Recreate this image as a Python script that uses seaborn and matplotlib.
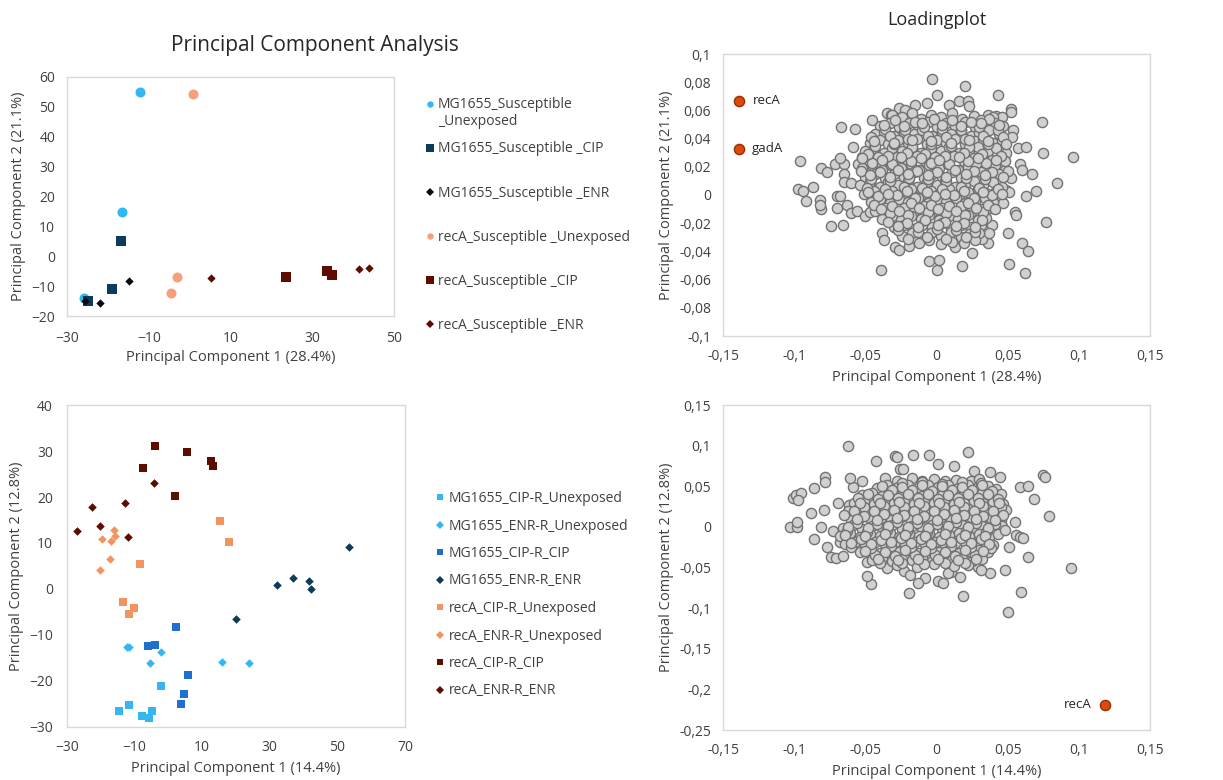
import numpy as np
import pandas as pd
import matplotlib
matplotlib.use("Agg")
import matplotlib.pyplot as plt
from matplotlib.lines import Line2D
from matplotlib.ticker import FuncFormatter
from matplotlib.legend_handler import HandlerLine2D
import seaborn as sns

# ---------------- data: PCA of samples (top) ----------------
top_labels = ["MG1655_Susceptible _Unexposed", "MG1655_Susceptible _CIP",
              "MG1655_Susceptible _ENR", "recA_Susceptible _Unexposed",
              "recA_Susceptible _CIP", "recA_Susceptible _ENR"]
top_group = (["MG1655_Susceptible _Unexposed"] * 3 + ["MG1655_Susceptible _CIP"] * 3 +
             ["MG1655_Susceptible _ENR"] * 3 + ["recA_Susceptible _Unexposed"] * 3 +
             ["recA_Susceptible _CIP"] * 3 + ["recA_Susceptible _ENR"] * 3)
top_pc1 = [-12.1, -16.5, -25.9, -16.9, -19.1, -24.9, -14.9, -21.9, -25.6,
           0.8, -3.1, -4.6, 23.7, 33.7, 34.8, 5.2, 41.4, 43.8]
top_pc2 = [55.0, 14.7, -14.0, 5.0, -10.8, -14.9, -8.4, -15.7, -14.9,
           54.2, -6.9, -12.3, -6.9, -4.8, -6.2, -7.2, -4.3, -4.1]

# ---------------- data: PCA of samples (bottom) ----------------
bot_labels = ["MG1655_CIP-R_Unexposed", "MG1655_ENR-R_Unexposed", "MG1655_CIP-R_CIP",
              "MG1655_ENR-R_ENR", "recA_CIP-R_Unexposed", "recA_ENR-R_Unexposed",
              "recA_CIP-R_CIP", "recA_ENR-R_ENR"]
bot_group = [lab for lab in bot_labels for _ in range(6)]
bot_pc1 = [-14.7, -11.7, -7.7, -5.7, -4.9, -2.2,
           -12.3, -11.7, -5.4, -2.2, 15.8, 23.9,
           2.2, -6.0, -4.1, 5.9, 4.5, 3.6,
           53.5, 36.8, 32.1, 41.5, 42.3, 20.0,
           15.4, 18.0, -8.3, -13.3, -11.8, -10.3,
           -16.1, -15.9, -16.9, -19.5, -17.4, -20.2,
           -4.0, 5.6, -7.6, 12.7, 13.2, 1.9,
           -4.3, -12.7, -22.5, -20.1, -27.0, -12.1]
bot_pc2 = [-26.5, -25.2, -27.5, -28.0, -26.5, -21.0,
           -12.6, -12.5, -16.0, -13.7, -15.9, -16.0,
           -8.3, -12.3, -12.1, -18.8, -22.8, -25.0,
           9.2, 2.4, 0.8, 1.8, 0.1, -6.6,
           14.7, 10.3, 5.5, -2.9, -5.4, -4.2,
           12.9, 11.6, 10.5, 10.9, 6.6, 4.2,
           31.0, 29.7, 26.3, 27.8, 26.8, 20.3,
           23.1, 18.6, 17.8, 13.6, 12.6, 11.4]

# ---------------- data: loadings (top, PC1 28.4% / PC2 21.1%) ----------------
loading_top_points = [
    (-0.003, 0.082), (0.020, 0.077), (0.000, 0.071), (0.043, 0.071), (0.052, 0.061), (0.052, 0.059),
    (0.074, 0.052), (0.075, 0.030), (0.096, 0.027), (0.085, 0.0085), (0.070, 0.003), (0.077, -0.019),
    (0.063, -0.001), (0.050, -0.027), (0.060, -0.034), (0.064, -0.040), (0.051, -0.049), (0.062, -0.055),
    (0.018, -0.050), (0.000, -0.053), (-0.005, -0.047), (0.002, -0.046), (-0.039, -0.053), (-0.038, -0.027),
    (-0.037, -0.032), (-0.029, -0.037), (-0.026, -0.039), (-0.019, -0.036), (0.013, -0.037), (0.025, -0.041),
    (0.036, -0.034), (0.032, -0.031), (-0.074, -0.022), (-0.066, -0.021), (-0.082, -0.0035), (-0.081, -0.010),
    (-0.082, -0.007), (-0.096, 0.024), (-0.097, 0.0045), (-0.094, 0.003), (-0.092, -0.004), (-0.087, 0.006),
    (-0.081, 0.019), (-0.077, 0.016), (-0.067, 0.048), (-0.057, 0.047), (-0.045, 0.053), (-0.059, 0.034),
    (-0.070, -0.0007), (-0.068, -0.001), (-0.070, -0.009), (-0.063, -0.007), (-0.060, -0.013), (-0.056, -0.011),
    (-0.071, 0.022), (-0.065, 0.022), (-0.068, 0.026), (-0.065, 0.015), (-0.065, 0.009), (-0.060, 0.0085),
    (-0.055, 0.022), (-0.052, 0.027), (-0.050, -0.015), (-0.047, -0.012), (-0.035, 0.058), (-0.032, 0.057),
    (-0.029, 0.056), (-0.026, 0.062), (-0.022, 0.060), (-0.015, 0.064), (-0.007, 0.065), (0.009, 0.064),
    (0.016, 0.067), (0.022, 0.067), (0.023, 0.063), (0.036, 0.057), (0.042, 0.056), (0.046, 0.055),
    (0.054, 0.046), (0.053, 0.041), (0.057, 0.033), (0.063, 0.034), (0.059, 0.022), (0.060, 0.018),
    (0.067, 0.015), (0.050, 0.015), (0.052, 0.012), (0.049, 0.0035), (0.051, 0.002), (0.042, -0.0035),
    (0.045, -0.0035), (0.047, -0.006), (0.055, -0.012), (0.056, -0.014), (0.039, -0.021), (0.037, -0.027),
    (-0.031, 0.057), (-0.024, 0.055), (-0.017, 0.058), (-0.011, 0.054), (-0.004, 0.057), (0.003, 0.055),
    (0.011, 0.058), (0.018, 0.054), (0.026, 0.056), (0.031, 0.053), (0.040, 0.055),
    (-0.040, 0.049), (-0.033, 0.051), (-0.026, 0.048), (-0.019, 0.051), (-0.013, 0.049), (-0.006, 0.052),
    (0.000, 0.048), (0.007, 0.051), (0.013, 0.049), (0.020, 0.052), (0.027, 0.048), (0.034, 0.050),
    (0.041, 0.051), (0.047, 0.049),
    (-0.043, 0.043), (-0.037, 0.045), (-0.030, 0.042), (-0.023, 0.045), (-0.016, 0.043), (-0.010, 0.046),
    (-0.003, 0.042), (0.004, 0.045), (0.010, 0.043), (0.017, 0.046), (0.024, 0.042), (0.030, 0.044),
    (0.037, 0.046), (0.044, 0.043),
    (-0.047, 0.037), (-0.040, 0.039), (-0.034, 0.036), (-0.027, 0.039), (-0.020, 0.037), (-0.014, 0.040),
    (-0.007, 0.036), (0.000, 0.039), (0.007, 0.037), (0.013, 0.040), (0.020, 0.036), (0.027, 0.038),
    (0.033, 0.040), (0.040, 0.037), (0.046, 0.039),
    (-0.050, 0.031), (-0.044, 0.033), (-0.037, 0.030), (-0.031, 0.033), (-0.024, 0.031), (-0.017, 0.034),
    (-0.011, 0.030), (-0.004, 0.033), (0.003, 0.031), (0.009, 0.034), (0.016, 0.030), (0.023, 0.032),
    (0.029, 0.034), (0.036, 0.031), (0.042, 0.033), (0.049, 0.030),
    (-0.048, 0.025), (-0.041, 0.027), (-0.035, 0.024), (-0.028, 0.027), (-0.021, 0.025), (-0.014, 0.028),
    (-0.008, 0.024), (-0.001, 0.027), (0.006, 0.025), (0.012, 0.028), (0.019, 0.024), (0.026, 0.026),
    (0.032, 0.028), (0.039, 0.025), (0.045, 0.027),
    (-0.052, 0.019), (-0.045, 0.021), (-0.038, 0.018), (-0.032, 0.021), (-0.025, 0.019), (-0.018, 0.022),
    (-0.012, 0.018), (-0.005, 0.021), (0.002, 0.019), (0.008, 0.022), (0.015, 0.018), (0.022, 0.020),
    (0.028, 0.022), (0.035, 0.019), (0.041, 0.021), (0.048, 0.018),
    (-0.050, 0.013), (-0.043, 0.015), (-0.036, 0.012), (-0.030, 0.015), (-0.023, 0.013), (-0.016, 0.016),
    (-0.009, 0.012), (-0.003, 0.015), (0.004, 0.013), (0.011, 0.016), (0.017, 0.012), (0.024, 0.014),
    (0.031, 0.016), (0.037, 0.013), (0.044, 0.015),
    (-0.054, 0.007), (-0.047, 0.009), (-0.040, 0.006), (-0.034, 0.009), (-0.027, 0.007), (-0.020, 0.010),
    (-0.014, 0.006), (-0.007, 0.009), (0.000, 0.007), (0.006, 0.010), (0.013, 0.006), (0.020, 0.008),
    (0.026, 0.010), (0.033, 0.007), (0.040, 0.009), (0.046, 0.006),
    (-0.051, 0.001), (-0.044, 0.003), (-0.038, 0.000), (-0.031, 0.003), (-0.024, 0.001), (-0.018, 0.004),
    (-0.011, 0.000), (-0.004, 0.003), (0.002, 0.001), (0.009, 0.004), (0.016, 0.000), (0.022, 0.002),
    (0.029, 0.004), (0.036, 0.001), (0.042, 0.003),
    (-0.046, -0.005), (-0.040, -0.003), (-0.033, -0.006), (-0.026, -0.003), (-0.020, -0.005), (-0.013, -0.002),
    (-0.006, -0.006), (0.000, -0.003), (0.007, -0.005), (0.014, -0.002), (0.020, -0.006), (0.027, -0.004),
    (0.034, -0.002), (0.040, -0.005),
    (-0.043, -0.011), (-0.036, -0.009), (-0.029, -0.012), (-0.023, -0.009), (-0.016, -0.011), (-0.009, -0.008),
    (-0.003, -0.012), (0.004, -0.009), (0.011, -0.011), (0.017, -0.008), (0.024, -0.012), (0.031, -0.010),
    (0.038, -0.009),
    (-0.038, -0.017), (-0.031, -0.015), (-0.025, -0.018), (-0.018, -0.015), (-0.011, -0.017), (-0.005, -0.014),
    (0.002, -0.018), (0.009, -0.015), (0.015, -0.017), (0.022, -0.014), (0.029, -0.018), (0.035, -0.016),
    (-0.030, -0.023), (-0.023, -0.021), (-0.016, -0.024), (-0.010, -0.021), (-0.003, -0.023), (0.004, -0.020),
    (0.010, -0.024), (0.017, -0.021), (0.024, -0.023), (0.031, -0.021),
    (-0.024, -0.029), (-0.017, -0.027), (-0.010, -0.030), (-0.004, -0.027), (0.003, -0.029), (0.010, -0.026),
    (0.017, -0.030), (0.023, -0.028), (0.030, -0.027),
    (-0.012, -0.034), (-0.005, -0.032), (0.003, -0.035), (0.011, -0.033), (0.019, -0.034), (0.027, -0.032),
    (-0.036, 0.047), (-0.022, 0.046), (-0.009, 0.048), (0.004, 0.047), (0.017, 0.046), (0.030, 0.048),
    (0.043, 0.046), (-0.043, 0.035), (-0.030, 0.036), (-0.017, 0.034), (-0.004, 0.036), (0.010, 0.035),
    (0.023, 0.034), (0.036, 0.036), (-0.045, 0.023), (-0.031, 0.022), (-0.018, 0.024), (-0.004, 0.023),
    (0.009, 0.022), (0.022, 0.024), (0.035, 0.023), (0.048, 0.024), (-0.046, 0.011), (-0.033, 0.010),
    (-0.019, 0.012), (-0.006, 0.011), (0.007, 0.010), (0.021, 0.012), (0.034, 0.011), (-0.041, -0.001),
    (-0.028, 0.000), (-0.015, -0.002), (-0.001, -0.001), (0.012, 0.000), (0.026, -0.002), (0.039, 0.000),
    (-0.033, -0.013), (-0.020, -0.014), (-0.006, -0.012), (0.007, -0.013), (0.020, -0.014), (0.033, -0.012),
    (-0.029, 0.053), (-0.015, 0.052), (-0.002, 0.054), (0.011, 0.053), (0.024, 0.052), (0.037, 0.054),
    (-0.046, 0.041), (-0.033, 0.042), (-0.020, 0.040), (-0.006, 0.042), (0.007, 0.041), (0.020, 0.040),
    (0.033, 0.042), (0.047, 0.041),
    (-0.048, 0.029), (-0.034, 0.028), (-0.021, 0.030), (-0.008, 0.029), (0.006, 0.028), (0.019, 0.030),
    (0.032, 0.029), (0.045, 0.028),
    (-0.053, 0.017), (-0.040, 0.016), (-0.027, 0.018), (-0.014, 0.017), (0.000, 0.016), (0.013, 0.018),
    (0.026, 0.017), (0.039, 0.016), (0.050, 0.017),
    (-0.049, 0.005), (-0.036, 0.004), (-0.023, 0.006), (-0.010, 0.005), (0.004, 0.004), (0.017, 0.006),
    (0.030, 0.005), (0.043, 0.004),
    (-0.044, -0.007), (-0.031, -0.008), (-0.018, -0.006), (-0.004, -0.007), (0.009, -0.008), (0.022, -0.006),
    (0.036, -0.007),
    (-0.034, -0.019), (-0.021, -0.020), (-0.008, -0.018), (0.006, -0.019), (0.019, -0.020), (0.032, -0.018),
    (-0.027, -0.025), (-0.013, -0.026), (0.000, -0.024), (0.014, -0.025), (0.027, -0.026),
    (-0.020, -0.031), (-0.007, -0.030), (0.007, -0.031), (0.021, -0.030),
    (-0.037, 0.050), (-0.023, 0.049), (-0.010, 0.051), (0.004, 0.050), (0.017, 0.049), (0.031, 0.051),
    (0.044, 0.050),
    (-0.044, 0.038), (-0.030, 0.037), (-0.017, 0.039), (-0.004, 0.038), (0.010, 0.037), (0.023, 0.039),
    (0.036, 0.038), (0.049, 0.036),
    (-0.052, 0.026), (-0.038, 0.025), (-0.025, 0.027), (-0.011, 0.026), (0.002, 0.025), (0.016, 0.027),
    (0.029, 0.026), (0.042, 0.025),
    (-0.047, 0.014), (-0.033, 0.013), (-0.020, 0.015), (-0.006, 0.014), (0.007, 0.013), (0.021, 0.015),
    (0.034, 0.014), (0.047, 0.013),
    (-0.048, 0.002), (-0.034, 0.001), (-0.021, 0.003), (-0.007, 0.002), (0.006, 0.001), (0.019, 0.003),
    (0.033, 0.002), (0.046, 0.001),
    (-0.039, -0.010), (-0.026, -0.011), (-0.012, -0.009), (0.001, -0.010), (0.014, -0.011), (0.028, -0.009),
    (0.041, -0.010),
    (-0.027, -0.022), (-0.013, -0.023), (0.001, -0.021), (0.014, -0.022), (0.027, -0.023),
]
top_genes = ["recA", "gadA"]
top_genes_pc1 = [-0.1385, -0.139]
top_genes_pc2 = [0.067, 0.0327]

# ---------------- data: loadings (bottom, PC1 14.4% / PC2 12.8%) ----------------
loading_bottom_points = [
    (-0.0619, 0.0995), (-0.0427, 0.081), (-0.029, 0.0876), (-0.028, 0.0864), (-0.0164, 0.0889), (-0.0052, 0.0885),
    (0.0218, 0.0922), (0.001, 0.0774), (0.0124, 0.0749), (0.0373, 0.067), (0.0445, 0.061), (0.026, 0.069),
    (0.0745, 0.0638), (0.076, 0.061), (0.059, 0.0495), (0.0645, 0.050), (0.0684, 0.034), (0.0792, 0.0138),
    (0.0555, 0.0066), (0.0558, -0.0098), (0.0586, -0.012), (0.061, -0.014), (0.051, -0.0244), (0.0644, -0.0367),
    (0.0483, -0.053), (0.0944, -0.0506), (0.0375, -0.057), (0.029, -0.049), (0.0316, -0.053), (0.0595, -0.0797),
    (0.0504, -0.1044), (0.0187, -0.0847), (0.0164, -0.062), (0.0105, -0.055), (0.008, -0.0564), (0.0012, -0.067),
    (0.0047, -0.0687), (-0.0082, -0.0625), (-0.013, -0.0695), (-0.019, -0.081), (-0.0227, -0.054), (-0.0188, -0.0596),
    (-0.0347, -0.050), (-0.046, -0.0703), (-0.049, -0.0605), (-0.049, -0.0436), (-0.0738, -0.0375), (-0.0703, -0.0379),
    (-0.0656, -0.0354), (-0.0766, -0.0244), (-0.0862, -0.0149), (-0.0813, -0.0006), (-0.0881, 0.0167), (-0.0792, 0.0204),
    (-0.103, -0.0006), (-0.098, -0.0006), (-0.098, 0.0064), (-0.1008, 0.0351), (-0.0984, 0.0392), (-0.0951, 0.042),
    (-0.0973, 0.033), (-0.0862, 0.0474), (-0.078, 0.0618), (-0.078, 0.0552), (-0.0691, 0.029), (-0.0614, 0.0269),
    (-0.059, 0.0495), (-0.0523, 0.057), (-0.061, 0.0597), (-0.0359, 0.0597), (-0.0258, 0.0708), (-0.0234, 0.0716),
    (-0.0726, -0.0056), (-0.0656, -0.0056), (-0.068, -0.019),
    (-0.028, 0.057), (-0.017, 0.060), (-0.010, 0.056), (-0.002, 0.059), (0.006, 0.056), (0.014, 0.058),
    (0.024, 0.056), (0.030, 0.059),
    (-0.042, 0.048), (-0.035, 0.051), (-0.027, 0.049), (-0.020, 0.052), (-0.013, 0.048), (-0.006, 0.051),
    (0.001, 0.049), (0.008, 0.052), (0.015, 0.048), (0.022, 0.051), (0.029, 0.049), (0.036, 0.050), (0.042, 0.047),
    (-0.052, 0.039), (-0.045, 0.042), (-0.038, 0.038), (-0.031, 0.041), (-0.024, 0.039), (-0.017, 0.042),
    (-0.010, 0.038), (-0.003, 0.041), (0.004, 0.039), (0.011, 0.042), (0.018, 0.038), (0.025, 0.040),
    (0.032, 0.042), (0.039, 0.039), (0.045, 0.041),
    (-0.058, 0.030), (-0.051, 0.032), (-0.044, 0.028), (-0.037, 0.031), (-0.030, 0.029), (-0.023, 0.032),
    (-0.016, 0.028), (-0.009, 0.031), (-0.002, 0.029), (0.005, 0.032), (0.012, 0.028), (0.019, 0.030),
    (0.026, 0.032), (0.033, 0.029), (0.040, 0.031), (0.047, 0.028),
    (-0.062, 0.019), (-0.055, 0.022), (-0.048, 0.018), (-0.041, 0.021), (-0.034, 0.019), (-0.027, 0.022),
    (-0.020, 0.018), (-0.013, 0.021), (-0.006, 0.019), (0.001, 0.022), (0.008, 0.018), (0.015, 0.020),
    (0.022, 0.022), (0.029, 0.019), (0.036, 0.021), (0.043, 0.018), (0.049, 0.021),
    (-0.060, 0.009), (-0.053, 0.012), (-0.046, 0.008), (-0.039, 0.011), (-0.032, 0.009), (-0.025, 0.012),
    (-0.018, 0.008), (-0.011, 0.011), (-0.004, 0.009), (0.003, 0.012), (0.010, 0.008), (0.017, 0.010),
    (0.024, 0.012), (0.031, 0.009), (0.038, 0.011), (0.045, 0.008),
    (-0.066, -0.001), (-0.059, 0.002), (-0.052, -0.002), (-0.045, 0.001), (-0.038, -0.001), (-0.031, 0.002),
    (-0.024, -0.002), (-0.017, 0.001), (-0.010, -0.001), (-0.003, 0.002), (0.004, -0.002), (0.011, 0.000),
    (0.018, 0.002), (0.025, -0.001), (0.032, 0.001), (0.039, -0.002), (0.046, 0.001),
    (-0.068, -0.011), (-0.061, -0.008), (-0.054, -0.012), (-0.047, -0.009), (-0.040, -0.011), (-0.033, -0.008),
    (-0.026, -0.012), (-0.019, -0.009), (-0.012, -0.011), (-0.005, -0.008), (0.002, -0.012), (0.009, -0.010),
    (0.016, -0.008), (0.023, -0.011), (0.030, -0.009), (0.037, -0.012), (0.043, -0.009),
    (-0.064, -0.021), (-0.057, -0.018), (-0.050, -0.022), (-0.043, -0.019), (-0.036, -0.021), (-0.029, -0.018),
    (-0.022, -0.022), (-0.015, -0.019), (-0.008, -0.021), (-0.001, -0.018), (0.006, -0.022), (0.013, -0.020),
    (0.020, -0.018), (0.027, -0.021), (0.034, -0.019), (0.040, -0.022),
    (-0.054, -0.031), (-0.047, -0.028), (-0.040, -0.032), (-0.033, -0.029), (-0.026, -0.031), (-0.019, -0.028),
    (-0.012, -0.032), (-0.005, -0.029), (0.002, -0.031), (0.009, -0.028), (0.016, -0.032), (0.023, -0.030),
    (0.030, -0.028), (0.036, -0.031),
    (-0.045, -0.041), (-0.038, -0.038), (-0.031, -0.042), (-0.024, -0.039), (-0.017, -0.041), (-0.010, -0.038),
    (-0.003, -0.042), (0.004, -0.039), (0.011, -0.041), (0.018, -0.038), (0.025, -0.042), (0.032, -0.040),
    (-0.028, -0.047), (-0.014, -0.049), (-0.002, -0.046), (0.012, -0.048), (0.022, -0.047),
    (-0.031, 0.045), (-0.017, 0.046), (-0.003, 0.044), (0.011, 0.046), (0.025, 0.045), (0.039, 0.044),
    (-0.051, 0.025), (-0.037, 0.026), (-0.023, 0.024), (-0.009, 0.026), (0.005, 0.025), (0.019, 0.024),
    (0.033, 0.026), (0.045, 0.025),
    (-0.056, 0.005), (-0.042, 0.004), (-0.028, 0.006), (-0.014, 0.005), (0.000, 0.004), (0.014, 0.006),
    (0.028, 0.005), (0.041, 0.004),
    (-0.053, -0.015), (-0.039, -0.016), (-0.025, -0.014), (-0.011, -0.015), (0.003, -0.016), (0.017, -0.014),
    (0.031, -0.015),
    (-0.043, -0.035), (-0.029, -0.036), (-0.015, -0.034), (-0.001, -0.035), (0.013, -0.036), (0.027, -0.034),
    (-0.024, 0.054), (-0.010, 0.055), (0.004, 0.053), (0.018, 0.055), (0.031, 0.054),
    (-0.055, 0.035), (-0.041, 0.034), (-0.027, 0.036), (-0.013, 0.035), (0.001, 0.034), (0.015, 0.036),
    (0.029, 0.035), (0.043, 0.034),
    (-0.065, 0.015), (-0.051, 0.014), (-0.037, 0.016), (-0.023, 0.015), (-0.009, 0.014), (0.005, 0.016),
    (0.019, 0.015), (0.033, 0.014), (0.047, 0.015),
    (-0.063, -0.005), (-0.049, -0.006), (-0.035, -0.004), (-0.021, -0.005), (-0.007, -0.006), (0.007, -0.004),
    (0.021, -0.005), (0.035, -0.006), (0.048, -0.004),
    (-0.060, -0.025), (-0.046, -0.026), (-0.032, -0.024), (-0.018, -0.025), (-0.004, -0.026), (0.010, -0.024),
    (0.024, -0.025), (0.038, -0.026),
    (-0.040, -0.045), (-0.024, -0.044), (-0.009, -0.046), (0.006, -0.044), (0.020, -0.045),
    (-0.038, 0.050), (-0.024, 0.049), (-0.010, 0.051), (0.004, 0.050), (0.018, 0.049), (0.032, 0.051),
    (-0.048, 0.040), (-0.034, 0.039), (-0.020, 0.041), (-0.006, 0.040), (0.008, 0.039), (0.022, 0.041),
    (0.036, 0.040),
    (-0.054, 0.030), (-0.040, 0.029), (-0.026, 0.031), (-0.012, 0.030), (0.002, 0.029), (0.016, 0.031),
    (0.030, 0.030), (0.044, 0.029),
    (-0.058, 0.020), (-0.044, 0.019), (-0.030, 0.021), (-0.016, 0.020), (-0.002, 0.019), (0.012, 0.021),
    (0.026, 0.020), (0.040, 0.019),
    (-0.056, 0.010), (-0.042, 0.009), (-0.028, 0.011), (-0.014, 0.010), (0.000, 0.009), (0.014, 0.011),
    (0.028, 0.010), (0.041, 0.009),
    (-0.062, 0.000), (-0.048, -0.001), (-0.034, 0.001), (-0.020, 0.000), (-0.006, -0.001), (0.008, 0.001),
    (0.022, 0.000), (0.036, -0.001),
    (-0.064, -0.010), (-0.050, -0.011), (-0.036, -0.009), (-0.022, -0.010), (-0.008, -0.011), (0.006, -0.009),
    (0.020, -0.010), (0.034, -0.011),
    (-0.060, -0.020), (-0.046, -0.021), (-0.032, -0.019), (-0.018, -0.020), (-0.004, -0.021), (0.010, -0.019),
    (0.024, -0.020), (0.037, -0.021),
    (-0.050, -0.030), (-0.036, -0.031), (-0.022, -0.029), (-0.008, -0.030), (0.006, -0.031), (0.020, -0.029),
    (0.033, -0.030),
    (-0.041, -0.040), (-0.027, -0.041), (-0.013, -0.039), (0.001, -0.040), (0.015, -0.041), (0.028, -0.039),
]
bottom_genes = ["recA"]
bottom_genes_pc1 = [0.1183]
bottom_genes_pc2 = [-0.2192]

# ---------------- styles ----------------
LB, NAVY, BLACK = "#33B7F0", "#0D3B5E", "#0A0A14"
SALMON_T, SALMON_B, DARKRED, MIDBLUE = "#F5A07A", "#F3935F", "#5E0B00", "#1F6FCF"
top_style = {
    "MG1655_Susceptible _Unexposed": (LB, "o", 52, 4.6),
    "MG1655_Susceptible _CIP": (NAVY, "s", 44, 5.2),
    "MG1655_Susceptible _ENR": (BLACK, "D", 18, 3.6),
    "recA_Susceptible _Unexposed": (SALMON_T, "o", 52, 4.6),
    "recA_Susceptible _CIP": (DARKRED, "s", 44, 5.2),
    "recA_Susceptible _ENR": (DARKRED, "D", 18, 3.6),
}
bot_style = {
    "MG1655_CIP-R_Unexposed": (LB, "s", 36, 5.0),
    "MG1655_ENR-R_Unexposed": (LB, "D", 19, 3.6),
    "MG1655_CIP-R_CIP": (MIDBLUE, "s", 36, 5.0),
    "MG1655_ENR-R_ENR": (NAVY, "D", 19, 3.6),
    "recA_CIP-R_Unexposed": (SALMON_B, "s", 36, 5.0),
    "recA_ENR-R_Unexposed": (SALMON_B, "D", 19, 3.6),
    "recA_CIP-R_CIP": (DARKRED, "s", 36, 5.0),
    "recA_ENR-R_ENR": (DARKRED, "D", 19, 3.6),
}

sns.set_theme(style="white")
plt.rcParams["font.family"] = ["Open Sans", "DejaVu Sans"]
TXT = "#404040"
W, H = 1223, 780

fig = plt.figure(figsize=(W / 100, H / 100), dpi=100)


def px_axes(l, t, r, b):
    return fig.add_axes([l / W, 1 - b / H, (r - l) / W, (b - t) / H])


def comma_fmt(v, pos):
    v = round(v, 4)
    if abs(v) < 1e-9:
        return "0"
    return f"{v:g}".replace(".", ",")


def style_axes(ax, xlim, ylim, xt, yt, xlabel, ylabel, comma=False, xpad=9, ypad=8.5,
               xlp=4, ylp=4):
    ax.set_xlim(xlim)
    ax.set_ylim(ylim)
    ax.set_xticks(xt)
    ax.set_yticks(yt)
    if comma:
        ax.xaxis.set_major_formatter(FuncFormatter(comma_fmt))
        ax.yaxis.set_major_formatter(FuncFormatter(comma_fmt))
    ax.tick_params(axis="x", length=0, labelsize=10, colors=TXT, pad=xpad)
    ax.tick_params(axis="y", length=0, labelsize=10, colors=TXT, pad=ypad)
    for sp in ax.spines.values():
        sp.set_color("#D9D9D9")
        sp.set_linewidth(1.0)
    ax.set_xlabel(xlabel, fontsize=10.5, color=TXT, labelpad=xlp)
    ax.set_ylabel(ylabel, fontsize=10.5, color=TXT, labelpad=ylp)
    ax.grid(False)


ax_tl = px_axes(67, 77, 394, 316)
ax_bl = px_axes(67, 405, 405, 727)
ax_tr = px_axes(723, 54, 1150, 336)
ax_br = px_axes(723, 405, 1150, 730)

# ---- top-left PCA ----
df_top = pd.DataFrame({"pc1": top_pc1, "pc2": top_pc2, "group": top_group})
for g in top_labels:
    c, m, s, _ = top_style[g]
    sns.scatterplot(data=df_top[df_top.group == g], x="pc1", y="pc2", color=c, marker=m,
                    s=s, linewidth=0, ax=ax_tl, legend=False, zorder=3)
style_axes(ax_tl, (-30, 50), (-20, 60), [-30, -10, 10, 30, 50], np.arange(-20, 61, 10),
           "Principal Component 1 (28.4%)", "Principal Component 2 (21.1%)",
           xpad=10.5, ypad=8.5, xlp=3, ylp=4)

# ---- bottom-left PCA ----
df_bot = pd.DataFrame({"pc1": bot_pc1, "pc2": bot_pc2, "group": bot_group})
for g in bot_labels:
    c, m, s, _ = bot_style[g]
    sns.scatterplot(data=df_bot[df_bot.group == g], x="pc1", y="pc2", color=c, marker=m,
                    s=s, linewidth=0, ax=ax_bl, legend=False, zorder=3)
style_axes(ax_bl, (-30, 70), (-30, 40), np.arange(-30, 71, 20), np.arange(-30, 41, 10),
           "Principal Component 1 (14.4%)", "Principal Component 2 (12.8%)",
           xpad=9.5, ypad=10, xlp=4, ylp=4)

# ---- loading plots ----
GRAY_FILL, GRAY_EDGE = "#D0D0D0", "#727272"
RED_FILL, RED_EDGE = "#DD4A10", "#9A2C00"
PT = 54

lt = pd.DataFrame(loading_top_points, columns=["pc1", "pc2"])
sns.scatterplot(data=lt, x="pc1", y="pc2", s=PT, color=GRAY_FILL, edgecolor=GRAY_EDGE,
                linewidth=1.0, ax=ax_tr, legend=False, zorder=3)
sns.scatterplot(x=top_genes_pc1, y=top_genes_pc2, s=PT, color=RED_FILL, edgecolor=RED_EDGE,
                linewidth=1.0, ax=ax_tr, legend=False, zorder=4)
for name, x, y in zip(top_genes, top_genes_pc1, top_genes_pc2):
    ax_tr.annotate(name, (x, y), xytext=(9.5, 0), textcoords="offset points",
                   ha="left", va="center", fontsize=9.5, color="#262626")
style_axes(ax_tr, (-0.15, 0.15), (-0.1, 0.1), np.arange(-0.15, 0.151, 0.05),
           np.arange(-0.1, 0.101, 0.02), "Principal Component 1 (28.4%)",
           "Principal Component 2 (21.1%)", comma=True, xpad=9, ypad=8.5, xlp=5, ylp=4)

lb = pd.DataFrame(loading_bottom_points, columns=["pc1", "pc2"])
sns.scatterplot(data=lb, x="pc1", y="pc2", s=PT, color=GRAY_FILL, edgecolor=GRAY_EDGE,
                linewidth=1.0, ax=ax_br, legend=False, zorder=3)
sns.scatterplot(x=bottom_genes_pc1, y=bottom_genes_pc2, s=PT, color=RED_FILL, edgecolor=RED_EDGE,
                linewidth=1.0, ax=ax_br, legend=False, zorder=4)
for name, x, y in zip(bottom_genes, bottom_genes_pc1, bottom_genes_pc2):
    ax_br.annotate(name, (x, y), xytext=(-9.5, 0), textcoords="offset points",
                   ha="right", va="center", fontsize=9.5, color="#262626")
style_axes(ax_br, (-0.15, 0.15), (-0.25, 0.15), np.arange(-0.15, 0.151, 0.05),
           np.arange(-0.25, 0.151, 0.05), "Principal Component 1 (14.4%)",
           "Principal Component 2 (12.8%)", comma=True, xpad=9, ypad=8.5, xlp=5, ylp=4)

# ---- titles ----
fig.text(315 / W, 1 - 45 / H, "Principal Component Analysis", ha="center", va="center",
         fontsize=15, color="#262626")
fig.text(937 / W, 1 - 20 / H, "Loadingplot", ha="center", va="center",
         fontsize=13, color="#262626")


# ---- legends ----
def handle(c, m, ms):
    return Line2D([], [], linestyle="none", marker=m, color=c, markersize=ms,
                  markeredgewidth=0)


class FirstLineHandler(HandlerLine2D):
    """Place the marker level with the first line of a two-line label."""

    def __init__(self, shift, **kw):
        super().__init__(**kw)
        self.shift = shift

    def create_artists(self, legend, orig_handle, xdescent, ydescent, width, height,
                       fontsize, trans):
        arts = super().create_artists(legend, orig_handle, xdescent, ydescent, width,
                                      height, fontsize, trans)
        for a in arts:
            a.set_ydata(np.asarray(a.get_ydata()) + self.shift)
        return arts


f_style = top_style[top_labels[0]]
h_first = handle(f_style[0], f_style[1], f_style[3])
leg1 = fig.legend(handles=[h_first], labels=["MG1655_Susceptible\n_Unexposed"],
                  loc="upper left", bbox_to_anchor=(425.8 / W, 1 - 97 / H),
                  frameon=False, borderpad=0, borderaxespad=0, handlelength=0.6,
                  handletextpad=0.25, fontsize=10, labelcolor=TXT,
                  handler_map={h_first: FirstLineHandler(7.0)})
rest_handles = [handle(top_style[g][0], top_style[g][1], top_style[g][3]) for g in top_labels[1:]]
leg2 = fig.legend(handles=rest_handles, labels=top_labels[1:], loc="upper left",
                  bbox_to_anchor=(425.8 / W, 1 - 141.5 / H), frameon=False, borderpad=0,
                  borderaxespad=0, handlelength=0.6, handletextpad=0.25, fontsize=10,
                  labelcolor=TXT, labelspacing=2.1)
bot_handles = [handle(bot_style[g][0], bot_style[g][1], bot_style[g][3]) for g in bot_labels]
leg3 = fig.legend(handles=bot_handles, labels=bot_labels, loc="upper left",
                  bbox_to_anchor=(435.8 / W, 1 - 491 / H), frameon=False, borderpad=0,
                  borderaxespad=0, handlelength=0.6, handletextpad=0.35, fontsize=10,
                  labelcolor=TXT, labelspacing=0.9)

fig.savefig("out.png", dpi=100)
